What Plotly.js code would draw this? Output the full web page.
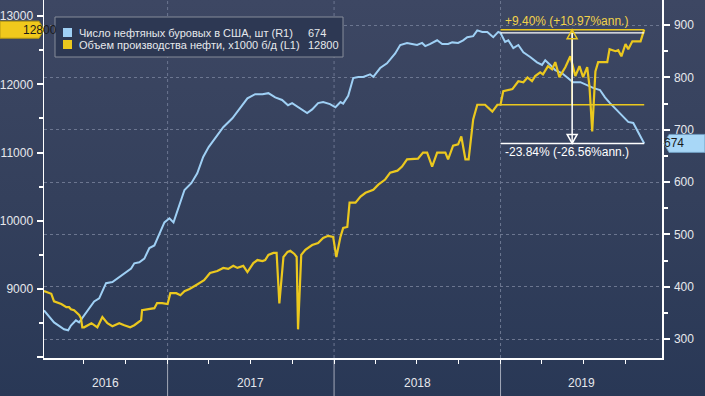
<!DOCTYPE html>
<html><head><meta charset="utf-8">
<script src="https://cdn.plot.ly/plotly-3.0.1.min.js"></script>
<style>
html,body{margin:0;padding:0;width:705px;height:396px;overflow:hidden;background:linear-gradient(180deg,#3d4763 0%,#34405c 50%,#293856 100%);}
#chart{width:705px;height:396px;}
</style>
</head><body><div id="chart"></div>
<script>
// ---- data ----
const rigName = 'Число нефтяных буровых в США, шт (R1)';
const prodName = 'Объем производства нефти, x1000 б/д (L1)';
const rigDates = ['2016-04-05','2016-04-27','2016-05-19','2016-05-28','2016-06-03','2016-06-14','2016-06-21','2016-07-02','2016-07-24','2016-08-04','2016-08-19','2016-09-02','2016-09-13','2016-09-28','2016-10-13','2016-10-20','2016-10-31','2016-11-11','2016-11-22','2016-12-03','2016-12-14','2016-12-25',
'2017-01-05','2017-01-14','2017-02-07','2017-02-22','2017-03-07','2017-03-20','2017-04-01','2017-04-20','2017-05-03','2017-05-23','2017-06-10','2017-06-25','2017-07-12','2017-07-28','2017-08-10','2017-08-25','2017-09-09','2017-09-22','2017-10-01','2017-10-14','2017-10-25','2017-11-03','2017-11-14','2017-11-27','2017-12-08','2017-12-23',
'2018-01-04','2018-01-15','2018-01-21','2018-02-01','2018-02-12','2018-02-23','2018-03-06','2018-03-21','2018-03-28','2018-04-12','2018-04-27','2018-05-15','2018-05-26','2018-06-10','2018-06-21','2018-07-02','2018-07-13','2018-07-20','2018-07-31','2018-08-15','2018-08-26','2018-09-08','2018-09-17','2018-09-30','2018-10-11','2018-10-20','2018-11-02','2018-11-11','2018-11-22','2018-12-03','2018-12-16','2018-12-27',
'2019-01-01','2019-01-11','2019-01-18','2019-01-29','2019-02-09','2019-02-20','2019-03-07','2019-03-22','2019-04-02','2019-04-09','2019-04-20','2019-05-01','2019-05-16','2019-05-27','2019-06-09','2019-06-25','2019-07-10','2019-07-23','2019-08-07','2019-08-18','2019-08-29','2019-09-09','2019-09-25','2019-10-08','2019-10-19','2019-10-30','2019-11-12'];
const rigValues = [355,332,319,317,326,336,332,345,372,378,407,409,416,426,435,445,447,454,474,479,502,523,
531,523,585,598,617,648,667,690,705,722,743,760,768,768,770,762,757,747,751,743,737,732,739,751,753,749,
743,753,750,765,799,801,801,806,801,818,827,846,862,866,864,862,866,860,864,871,864,864,867,866,871,877,879,890,887,887,877,887,
885,868,871,856,862,848,839,829,824,833,824,814,808,801,791,791,785,780,776,762,751,741,728,715,713,695,674];

const prodDates = ['2016-04-05','2016-04-21','2016-04-27','2016-05-13','2016-05-24','2016-05-30','2016-06-03','2016-06-10','2016-06-21','2016-06-25','2016-06-28','2016-07-02','2016-07-18','2016-07-31','2016-08-11','2016-08-22','2016-09-02','2016-09-17','2016-09-28','2016-10-11','2016-10-20','2016-11-04','2016-11-06','2016-11-26','2016-12-03','2016-12-09','2016-12-20',
'2017-01-01','2017-01-07','2017-01-20','2017-01-29','2017-02-07','2017-02-18','2017-03-05','2017-03-16','2017-03-22','2017-04-04','2017-04-20','2017-05-03','2017-05-14','2017-05-25','2017-06-03','2017-06-16','2017-06-25','2017-07-08','2017-07-17','2017-07-28','2017-08-03','2017-08-10','2017-08-21','2017-08-28','2017-09-03','2017-09-12','2017-09-21','2017-09-27','2017-10-06','2017-10-11','2017-10-14','2017-10-21','2017-10-30','2017-11-14','2017-11-27','2017-12-08','2017-12-19','2017-12-30',
'2018-01-06','2018-01-15','2018-01-21','2018-01-30','2018-02-04','2018-02-17','2018-02-28','2018-03-11','2018-03-28','2018-04-08','2018-04-23','2018-05-04','2018-05-20','2018-05-30','2018-06-10','2018-07-04','2018-07-15','2018-07-24','2018-08-04','2018-08-15','2018-09-02','2018-09-08','2018-09-19','2018-09-30','2018-10-07','2018-10-16','2018-10-23','2018-11-02','2018-11-11','2018-11-28','2018-12-14','2018-12-25',
'2019-01-01','2019-01-07','2019-01-27','2019-02-09','2019-02-20','2019-03-01','2019-03-11','2019-03-18','2019-03-29','2019-04-04','2019-04-15','2019-04-24','2019-05-01','2019-05-10','2019-05-23','2019-06-03','2019-06-14','2019-06-23','2019-07-01','2019-07-10','2019-07-15','2019-07-21','2019-07-28','2019-08-03','2019-08-23','2019-08-28','2019-09-10','2019-09-16','2019-09-23','2019-10-02','2019-10-08','2019-10-17','2019-11-04','2019-11-12'];
const prodValues = [8970,8930,8820,8780,8735,8735,8705,8690,8620,8575,8440,8440,8500,8440,8590,8500,8455,8500,8470,8440,8470,8545,8690,8705,8720,8795,8795,
8780,8940,8940,8910,8970,9000,9060,9100,9130,9235,9265,9310,9295,9340,9310,9340,9250,9380,9425,9410,9425,9500,9530,9530,8790,9470,9545,9560,9515,9470,8410,9500,9575,9645,9675,9750,9780,9765,
9470,9765,9895,9910,10265,10265,10355,10410,10455,10530,10605,10705,10735,10795,10900,10910,11000,11000,10795,11000,11000,10900,11100,11120,11235,10900,10900,11485,11700,11700,11600,11700,
11700,11900,11930,12045,12030,12100,12045,12120,12175,12145,12265,12220,12325,12105,12250,12410,12120,12265,12105,12250,11970,11310,12190,12325,12325,12515,12485,12500,12410,12590,12515,12630,12630,12800];

const yearLabels = ['2016','2017','2018','2019'];
const prodTickVals = [8000,9000,10000,11000,12000,13000];
const prodTickText = ['','9000','10000','11000','12000','13000'];
const rigTickVals = [300,400,500,600,700,800,900];
const quarterTicks = ['2016-07-01','2016-10-01','2017-01-01','2017-04-01','2017-07-01','2017-10-01','2018-01-01','2018-04-01','2018-07-01','2018-10-01','2019-01-01','2019-04-01','2019-07-01','2019-10-01'];
const windowStart = '2019-01-01';
const prodChangeText = '+9.40% (+10.97%ann.)';
const rigChangeText = '-23.84% (-26.56%ann.)';

// ---- geometry helpers ----
const PL=44, PR=662, PT=0, PB=358;
const px2p = x => (x-PL)/(PR-PL);
const py2p = y => (PB-y)/(PB-PT);
const xRange = ['2016-04-05','2019-12-21'];

const BLUE='#9fd0f5', YEL='#ebc81e', TXT='#e6e8ec', GRID='#6c7690';
const FONT='Liberation Sans, Arial, sans-serif';

const prodLast = prodValues[prodValues.length-1];
const rigLast = rigValues[rigValues.length-1];
const windowEnd = prodDates[prodDates.length-1];
const prodBase = prodValues[prodDates.indexOf(windowStart)];
const rigBase = rigValues[rigDates.indexOf(windowStart)];
const midDate = new Date((Date.parse(windowStart)+Date.parse(windowEnd))/2).toISOString().slice(0,10);

const traces = [
  {x: rigDates, y: rigValues, type:'scatter', mode:'lines', name: rigName, yaxis:'y', line:{color:BLUE, width:2}},
  {x: prodDates, y: prodValues, type:'scatter', mode:'lines', name: prodName, yaxis:'y2', line:{color:YEL, width:2.2}}
];

const shapes = [];
const annotations = [];
// year separators + dotted year grid
['2017-01-01','2018-01-01','2019-01-01'].forEach(d=>{
  shapes.push({type:'line', xref:'x', yref:'paper', x0:d, x1:d, y0:py2p(396), y1:0, line:{color:'#a3a9b8', width:1}, layer:'below'});
  shapes.push({type:'line', xref:'x', yref:'paper', x0:d, x1:d, y0:0, y1:1, line:{color:GRID, width:1, dash:'dot'}, layer:'below'});
});
// year labels
const yStarts = ['2016-01-01','2017-01-01','2018-01-01','2019-01-01','2020-01-01'];
yearLabels.forEach((lab,i)=>{
  const a = Math.max(Date.parse(yStarts[i]), Date.parse(xRange[0]));
  const b = Math.min(Date.parse(yStarts[i+1]), Date.parse(xRange[1]));
  annotations.push({xref:'x', yref:'paper', x:new Date((a+b)/2).toISOString().slice(0,10), y:py2p(383), text:lab, showarrow:false, font:{family:FONT, size:12, color:TXT}, yanchor:'middle'});
});

// analysis lines
shapes.push({type:'line', xref:'x', yref:'y2', x0:windowStart, x1:windowEnd, y0:prodBase, y1:prodBase, line:{color:YEL, width:1.5}});
shapes.push({type:'line', xref:'x', yref:'y2', x0:windowStart, x1:windowEnd, y0:prodLast, y1:prodLast, line:{color:YEL, width:1.5}});
shapes.push({type:'line', xref:'x', yref:'y', x0:windowStart, x1:windowEnd, y0:rigBase, y1:rigBase, line:{color:'#ffffff', width:1.2}});
shapes.push({type:'line', xref:'x', yref:'y', x0:windowStart, x1:windowEnd, y0:rigLast, y1:rigLast, line:{color:'#ffffff', width:1.5}});
shapes.push({type:'line', xref:'x', yref:'y2', x0:midDate, x1:midDate, y0:prodBase, y1:prodLast, line:{color:YEL, width:1.5}});
shapes.push({type:'line', xref:'x', yref:'y', x0:midDate, x1:midDate, y0:rigBase, y1:rigLast, line:{color:'#ffffff', width:1.5}});
shapes.push({type:'path', xref:'x', yref:'y2', xsizemode:'pixel', ysizemode:'pixel', xanchor:midDate, yanchor:prodLast,
  path:'M 0,0 L -5,-9 L 5,-9 Z', line:{color:YEL, width:1.5}, fillcolor:'rgba(0,0,0,0)'});
shapes.push({type:'path', xref:'x', yref:'y', xsizemode:'pixel', ysizemode:'pixel', xanchor:midDate, yanchor:rigLast,
  path:'M 0,0 L -5,9 L 5,9 Z', line:{color:'#ffffff', width:1.5}, fillcolor:'rgba(0,0,0,0)'});
annotations.push({xref:'x', yref:'y2', x:windowStart, y:prodLast, xanchor:'left', yanchor:'bottom', xshift:2, yshift:0, text:prodChangeText, showarrow:false, font:{family:FONT, size:12, color:'#f2d24a'}});
annotations.push({xref:'x', yref:'y', x:windowStart, y:rigLast, xanchor:'left', yanchor:'top', xshift:2, yshift:0, text:rigChangeText, showarrow:false, font:{family:FONT, size:12, color:'#ffffff'}});

// value tags
shapes.push({type:'path', xref:'paper', yref:'y2', xsizemode:'pixel', ysizemode:'pixel', xanchor:0, yanchor:prodLast,
  path:'M -44,-8.5 L -5,-8.5 L 0,0 L -5,8.5 L -44,8.5 Z', line:{color:'#b89a10', width:1}, fillcolor:'#f0c91c'});
annotations.push({xref:'paper', yref:'y2', x:px2p(21), y:prodLast, text:String(prodLast), showarrow:false, font:{family:FONT, size:12, color:'#1a1a1a'}});
shapes.push({type:'path', xref:'paper', yref:'y', xsizemode:'pixel', ysizemode:'pixel', xanchor:1, yanchor:rigLast,
  path:'M 2,0 L 7,-9 L 43,-9 L 43,9 L 7,9 Z', line:{color:'#6f9cc0', width:1}, fillcolor:'#a8d7f7'});
annotations.push({xref:'paper', yref:'y', x:px2p(686), y:rigLast, text:String(rigLast), showarrow:false, font:{family:FONT, size:12, color:'#1a1a1a'}});

// legend box
shapes.push({type:'rect', xref:'paper', yref:'paper', x0:px2p(55), x1:px2p(343), y0:py2p(57), y1:py2p(17), line:{color:'#868c9a', width:1}, fillcolor:'#2d3853'});
shapes.push({type:'rect', xref:'paper', yref:'paper', x0:px2p(63), x1:px2p(72), y0:py2p(37), y1:py2p(28), line:{width:0}, fillcolor:BLUE});
shapes.push({type:'rect', xref:'paper', yref:'paper', x0:px2p(63), x1:px2p(72), y0:py2p(49), y1:py2p(40), line:{width:0}, fillcolor:YEL});
annotations.push({xref:'paper', yref:'paper', x:px2p(77), y:py2p(32.5), xanchor:'left', yanchor:'middle', text:rigName, showarrow:false, font:{family:FONT, size:11, color:TXT}});
annotations.push({xref:'paper', yref:'paper', x:px2p(77), y:py2p(44.5), xanchor:'left', yanchor:'middle', text:prodName, showarrow:false, font:{family:FONT, size:11, color:TXT}});
annotations.push({xref:'paper', yref:'paper', x:px2p(306), y:py2p(32.5), xanchor:'left', yanchor:'middle', text:String(rigLast), showarrow:false, font:{family:FONT, size:11, color:TXT}});
annotations.push({xref:'paper', yref:'paper', x:px2p(306), y:py2p(44.5), xanchor:'left', yanchor:'middle', text:String(prodLast), showarrow:false, font:{family:FONT, size:11, color:TXT}});

const layout = {
  width:705, height:396,
  margin:{l:PL, r:705-PR, t:PT, b:396-PB, pad:0},
  paper_bgcolor:'rgba(0,0,0,0)', plot_bgcolor:'rgba(0,0,0,0)',
  showlegend:false,
  font:{family:FONT, size:12, color:TXT},
  xaxis:{type:'date', range:xRange, showgrid:false, zeroline:false, showline:true, linecolor:'#ffffff', linewidth:1.5,
    tickmode:'array', tickvals:quarterTicks, ticktext:quarterTicks.map(()=>''), ticks:'outside', ticklen:4, tickcolor:'#ffffff', tickwidth:1},
  yaxis:{range:[264,948], side:'right', tickmode:'array', tickvals:rigTickVals, ticks:'outside', ticklen:6, tickwidth:2, tickcolor:'#ffffff',
    showline:true, linecolor:'#ffffff', linewidth:1.5, showgrid:true, gridcolor:GRID, griddash:'dot', gridwidth:1, zeroline:false,
    tickfont:{family:FONT, size:12, color:TXT}, ticklabelstandoff:2,
    minor:{tickmode:'linear', tick0:250, dtick:50, ticks:'outside', ticklen:4, tickcolor:'#ffffff', showgrid:false}},
  yaxis2:{range:[7990,13235], overlaying:'y', side:'left', tickmode:'array', tickvals:prodTickVals, ticktext:prodTickText,
    ticks:'outside', ticklen:6, tickwidth:2, tickcolor:'#ffffff', showline:true, linecolor:'#ffffff', linewidth:1.5, showgrid:false, zeroline:false,
    tickfont:{family:FONT, size:12, color:TXT}, ticklabelstandoff:1,
    minor:{tickmode:'linear', tick0:7500, dtick:500, ticks:'outside', ticklen:4, tickcolor:'#ffffff', showgrid:false}},
  shapes: shapes,
  annotations: annotations
};
Plotly.newPlot('chart', traces, layout, {displayModeBar:false, staticPlot:true});
</script>
</body></html>
